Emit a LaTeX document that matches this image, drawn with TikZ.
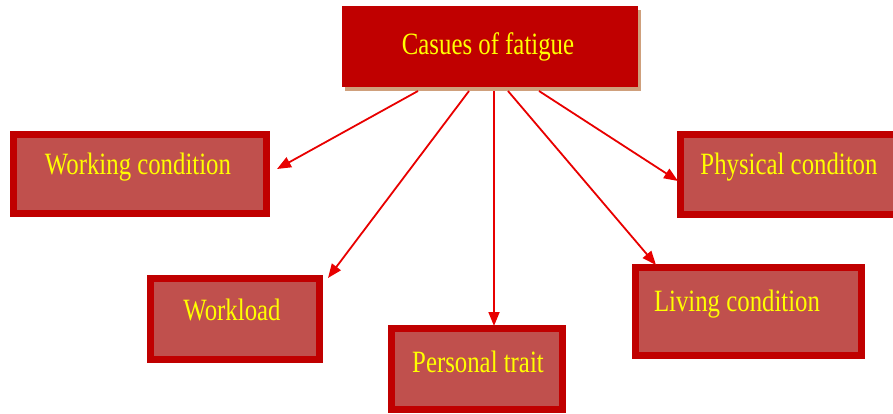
\documentclass[tikz,border=0pt]{standalone}
\usepackage{fontspec}
\setmainfont{Liberation Serif}
\usetikzlibrary{arrows.meta,shadows}
\definecolor{topred}{HTML}{C00000}
\definecolor{boxfill}{HTML}{C0504D}
\definecolor{shadowtan}{HTML}{CFA07C}
\definecolor{arrred}{HTML}{E80000}
\definecolor{txtyellow}{HTML}{FFFF00}
\tikzset{
  x=1pt, y=-1pt,
  topbox/.style={rectangle, fill=topred, draw=none, inner sep=0pt,
    drop shadow={shadow xshift=3pt, shadow yshift=-4pt, fill=shadowtan, opacity=1}},
  subbox/.style={rectangle, fill=boxfill, draw=topred, line width=7pt, inner sep=0pt,
    drop shadow={shadow xshift=3pt, shadow yshift=-3pt, fill=gray!60, opacity=1}},
  lbl/.style={anchor=base, text=txtyellow, inner sep=0pt,
    font=\fontsize{31}{31}\selectfont},
  arr/.style={draw=arrred, line width=1.8pt, -{Triangle[length=14pt,width=11pt]}},
}
\newcommand{\nar}[1]{\scalebox{0.8}[1]{#1}}
\begin{document}
\begin{tikzpicture}
\useasboundingbox (0,0) rectangle (893,414);
\clip (0,0) rectangle (893,414);
% boxes
\node[topbox, minimum width=296pt, minimum height=81pt] (top) at (490,46.5) {};
\node[subbox, minimum width=253pt, minimum height=79pt] (work) at (140,174) {};
\node[subbox, minimum width=169pt, minimum height=81pt] (load) at (235,319) {};
\node[subbox, minimum width=171pt, minimum height=81pt] (pers) at (477,369) {};
\node[subbox, minimum width=226pt, minimum height=88pt] (live) at (748.5,311.5) {};
\node[subbox, minimum width=216pt, minimum height=80pt] (phys) at (788.5,174.5) {};
% labels
\node[lbl] (ttop) at (488,55) {\nar{Casues of fatigue}};
\node[lbl] (twork) at (138,175) {\nar{Working condition}};
\node[lbl] (tload) at (232,320) {\nar{Workload}};
\node[lbl] (tpers) at (478,372) {\nar{Personal trait}};
\node[lbl] (tlive) at (737,311) {\nar{Living condition}};
\node[lbl] (tphys) at (789,175) {\nar{Physical conditon}};
% arrow ends
\coordinate (s1) at (418,91);
\coordinate (s2) at (469,91);
\coordinate (s3) at (494,91);
\coordinate (s4) at (508,91);
\coordinate (s5) at (539,91);
\coordinate (e1) at (277,169);
\coordinate (e2) at (328,278);
\coordinate (e3) at (494,326);
\coordinate (e4) at (656,265);
\coordinate (e5) at (678,181);
\draw[arr] (s1) -- (e1);
\draw[arr] (s2) -- (e2);
\draw[arr] (s3) -- (e3);
\draw[arr] (s4) -- (e4);
\draw[arr] (s5) -- (e5);
\end{tikzpicture}
\end{document}
